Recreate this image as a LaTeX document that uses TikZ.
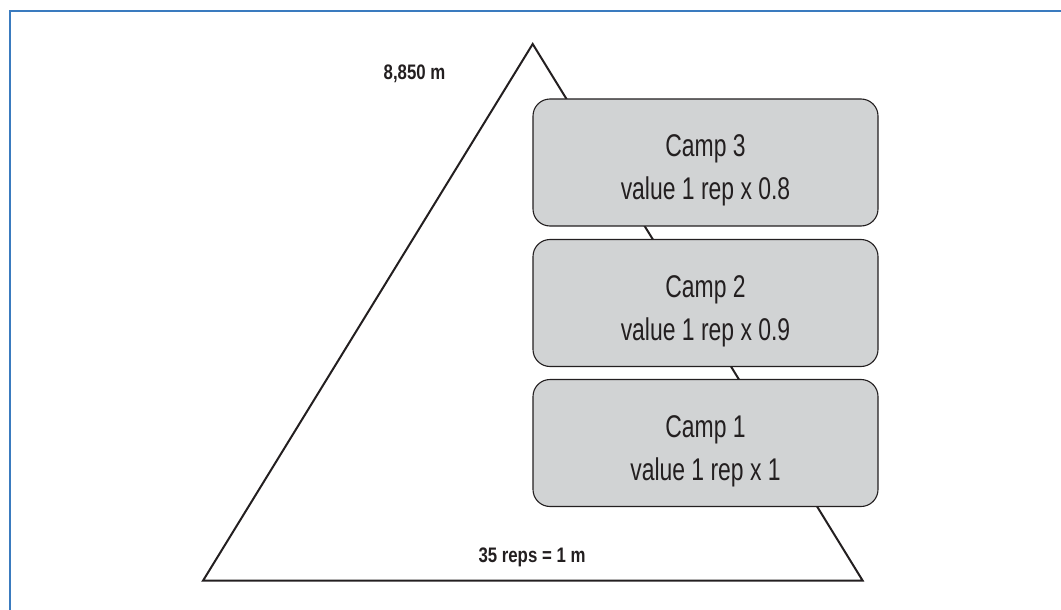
\documentclass[tikz,border=0pt]{standalone}
\usepackage{fontspec}
\setmainfont{Liberation Sans}[FakeStretch=0.73]
\newfontfamily\labelfont{Liberation Sans}[FakeStretch=0.80]
\definecolor{ink}{HTML}{231F20}
\definecolor{boxgray}{HTML}{D1D3D4}
\definecolor{frameblue}{HTML}{3A7BBF}
\tikzset{
  campbox/.style={draw=ink, fill=boxgray, line width=1.1pt, rounded corners=17pt,
    minimum width=345pt, minimum height=127pt, inner sep=0pt},
  camptext/.style={align=center, inner sep=0pt, text=ink,
    font=\fontsize{31.4}{43}\selectfont, yshift=-7.9pt},
  mountain/.style={draw=ink, line width=2pt, line join=miter},
  boldlabel/.style={font=\labelfont\fontsize{21}{24}\selectfont\bfseries, text=ink,
    inner sep=0pt, anchor=base},
  frameline/.style={draw=frameblue, line width=1.6pt}
}
\begin{document}
\begin{tikzpicture}[x=1pt,y=-1pt]
\useasboundingbox (0,0) rectangle (1061,610);
\draw[frameline] (10,610) -- (10,11) -- (1061,11);
\coordinate (apex) at (532.7,44);
\coordinate (bl) at (203,580.7);
\coordinate (br) at (862.7,580.7);
\draw[mountain] (apex) -- (bl) -- (br) -- cycle;
\node[campbox] (c3) at (705.5,162.5) {};
\node[campbox] (c2) at (705.5,303) {};
\node[campbox] (c1) at (705.5,443) {};
\node[camptext] (c3t) at (c3.center) {Camp 3\\value 1 rep x 0.8};
\node[camptext] (c2t) at (c2.center) {Camp 2\\value 1 rep x 0.9};
\node[camptext] (c1t) at (c1.center) {Camp 1\\value 1 rep x 1};
\node[boldlabel] (top) at (414.5,80) {8,850 m};
\node[boldlabel] (scale) at (532,562) {35 reps = 1 m};
\end{tikzpicture}
\end{document}
